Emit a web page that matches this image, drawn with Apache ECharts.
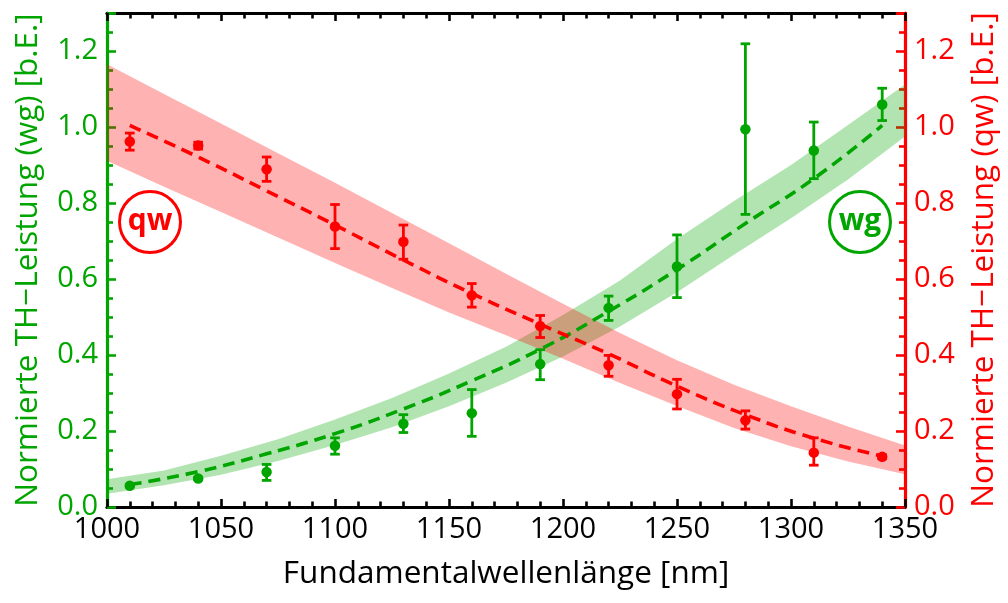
<!DOCTYPE html>
<html><head><meta charset="utf-8">
<script src="https://cdn.jsdelivr.net/npm/echarts@6/dist/echarts.min.js"></script>
<style>html,body{margin:0;padding:0;background:#fff}#c{width:1008px;height:603px}</style>
</head><body><div id="c"></div>
<script>
// ---- data ----
const wavelengths = [1010, 1040, 1070, 1100, 1130, 1160, 1190, 1220, 1250, 1280, 1310, 1340];

const wgValues  = [0.056, 0.075, 0.092, 0.161, 0.219, 0.247, 0.376, 0.524, 0.633, 0.994, 0.938, 1.059];
const wgErrLow  = [0.053, 0.072, 0.070, 0.139, 0.196, 0.186, 0.335, 0.491, 0.551, 0.770, 0.864, 1.017];
const wgErrHigh = [0.059, 0.078, 0.112, 0.182, 0.243, 0.309, 0.414, 0.555, 0.716, 1.219, 1.013, 1.102];

const qwValues  = [0.962, 0.951, 0.889, 0.738, 0.698, 0.557, 0.476, 0.373, 0.297, 0.228, 0.143, 0.132];
const qwErrLow  = [0.939, 0.942, 0.857, 0.680, 0.652, 0.526, 0.446, 0.344, 0.258, 0.205, 0.110, 0.127];
const qwErrHigh = [0.984, 0.960, 0.921, 0.796, 0.742, 0.588, 0.504, 0.399, 0.336, 0.253, 0.182, 0.137];

const wgFit = [0.059, 0.093, 0.140, 0.193, 0.258, 0.332, 0.415, 0.515, 0.625, 0.746, 0.864, 1.004];
const qwFit = [1.004, 0.921, 0.832, 0.742, 0.650, 0.562, 0.481, 0.403, 0.318, 0.243, 0.181, 0.134];

const bandX      = [1000, 1025, 1050, 1075, 1100, 1125, 1150, 1175, 1200, 1225, 1250, 1275, 1300, 1325, 1350];
const wgBandLow  = [0.035, 0.057, 0.085, 0.121, 0.163, 0.210, 0.265, 0.327, 0.396, 0.475, 0.565, 0.664, 0.760, 0.862, 0.975];
const wgBandHigh = [0.073, 0.096, 0.135, 0.178, 0.230, 0.287, 0.351, 0.422, 0.505, 0.596, 0.705, 0.805, 0.900, 1.005, 1.112];
const qwBandLow  = [0.911, 0.843, 0.776, 0.709, 0.642, 0.576, 0.512, 0.452, 0.390, 0.326, 0.266, 0.208, 0.160, 0.120, 0.086];
const qwBandHigh = [1.165, 1.087, 1.009, 0.931, 0.853, 0.774, 0.694, 0.614, 0.535, 0.458, 0.386, 0.322, 0.265, 0.212, 0.162];

const xTitle = 'Fundamentalwellenlänge [nm]';
const yLeftTitle = 'Normierte TH\u2212Leistung (wg) [b.E.]';
const yRightTitle = 'Normierte TH\u2212Leistung (qw) [b.E.]';

// ---- styling ----
const GREEN = '#00a500';
const RED = '#ff0000';
const FONT = '"Open Sans", "DejaVu Sans", sans-serif';
const TICK_FS = 29;
const TITLE_FS = 31.5;

function bandSeries(low, high, fill, yIdx) {
  return {
    type: 'custom', xAxisIndex: 0, yAxisIndex: yIdx, silent: true,
    data: bandX.map((x, i) => [x, low[i], high[i]]),
    encode: { x: 0, y: [1, 2] },
    renderItem: function (params, api) {
      if (params.dataIndex !== 0) return null;
      const pts = [];
      for (let i = 0; i < bandX.length; i++) pts.push(api.coord([bandX[i], high[i]]));
      for (let i = bandX.length - 1; i >= 0; i--) pts.push(api.coord([bandX[i], low[i]]));
      return { type: 'polygon', shape: { points: pts }, style: { fill: fill, stroke: null } };
    }
  };
}
function fitSeries(vals, color, yIdx) {
  return {
    type: 'line', xAxisIndex: 0, yAxisIndex: yIdx, smooth: true, showSymbol: false, silent: true,
    data: wavelengths.map((x, i) => [x, vals[i]]),
    lineStyle: { color: color, width: 3.6, type: [12, 7] }
  };
}
function errSeries(lo, hi, color, yIdx) {
  return {
    type: 'custom', xAxisIndex: 0, yAxisIndex: yIdx, silent: true,
    data: wavelengths.map((x, i) => [x, lo[i], hi[i]]),
    encode: { x: 0, y: [1, 2] },
    renderItem: function (params, api) {
      const a = api.coord([api.value(0), api.value(1)]);
      const b = api.coord([api.value(0), api.value(2)]);
      const w = 4.8;
      const st = { stroke: color, lineWidth: 2.8, fill: null };
      return { type: 'group', children: [
        { type: 'line', shape: { x1: a[0], y1: a[1], x2: b[0], y2: b[1] }, style: st },
        { type: 'line', shape: { x1: a[0] - w, y1: a[1], x2: a[0] + w, y2: a[1] }, style: st },
        { type: 'line', shape: { x1: b[0] - w, y1: b[1], x2: b[0] + w, y2: b[1] }, style: st }
      ]};
    }
  };
}
function pointSeries(vals, color, yIdx) {
  return {
    type: 'scatter', xAxisIndex: 0, yAxisIndex: yIdx, silent: true, symbolSize: 10.5,
    data: wavelengths.map((x, i) => [x, vals[i]]),
    itemStyle: { color: color, opacity: 1 }
  };
}
function yAxisDef(pos, color, title) {
  return {
    type: 'value', position: pos, min: 0, max: 1.3, interval: 0.2,
    name: title, nameLocation: 'middle', nameRotate: 90, nameGap: pos === 'left' ? 63 : 63,
    nameTextStyle: { color: color, fontSize: TITLE_FS, fontFamily: FONT },
    axisLine: { show: true, onZero: false, lineStyle: { color: color, width: 3.2 } },
    axisTick: { show: true, inside: true, length: 9, lineStyle: { color: color, width: 2.6 } },
    minorTick: { show: true, splitNumber: 4, length: 6, lineStyle: { color: color, width: 2.6 } },
    axisLabel: { color: color, fontSize: TICK_FS, fontFamily: FONT, margin: 9, showMaxLabel: false,
      formatter: v => v.toFixed(1) },
    splitLine: { show: false }, minorSplitLine: { show: false }
  };
}

const chart = echarts.init(document.getElementById('c'), null, { renderer: 'canvas' });
chart.setOption({
  animation: false,
  backgroundColor: '#fff',
  grid: { left: 107, right: 103, top: 13, bottom: 96, containLabel: false },
  xAxis: [
    {
      type: 'value', position: 'bottom', min: 1000, max: 1350, interval: 50,
      name: xTitle, nameLocation: 'middle', nameGap: 51,
      nameTextStyle: { color: '#000', fontSize: TITLE_FS, fontFamily: FONT },
      axisLine: { show: true, onZero: false, lineStyle: { color: '#000', width: 3.2 } },
      axisTick: { show: true, inside: true, length: 8, lineStyle: { color: '#000', width: 2.6 } },
      minorTick: { show: true, splitNumber: 5, length: 5.5, lineStyle: { color: '#000', width: 2.6 } },
      axisLabel: { color: '#000', fontSize: TICK_FS, fontFamily: FONT, margin: 8, formatter: v => String(v) },
      splitLine: { show: false }, minorSplitLine: { show: false }
    },
    {
      type: 'value', position: 'top', min: 1000, max: 1350, interval: 50,
      axisLine: { show: true, onZero: false, lineStyle: { color: '#000', width: 3.2 } },
      axisTick: { show: true, inside: true, length: 8, lineStyle: { color: '#000', width: 2.6 } },
      minorTick: { show: true, splitNumber: 5, length: 5.5, lineStyle: { color: '#000', width: 2.6 } },
      axisLabel: { show: false },
      splitLine: { show: false }, minorSplitLine: { show: false }
    }
  ],
  yAxis: [ yAxisDef('left', GREEN, yLeftTitle), yAxisDef('right', RED, yRightTitle) ],
  series: [
    bandSeries(wgBandLow, wgBandHigh, 'rgba(0,165,0,0.30)', 0),
    fitSeries(wgFit, GREEN, 0),
    bandSeries(qwBandLow, qwBandHigh, 'rgba(255,0,0,0.30)', 1),
    fitSeries(qwFit, RED, 1),
    errSeries(wgErrLow, wgErrHigh, GREEN, 0),
    pointSeries(wgValues, GREEN, 0),
    errSeries(qwErrLow, qwErrHigh, RED, 1),
    pointSeries(qwValues, RED, 1)
  ],
  graphic: [
    { type: 'circle', shape: { cx: 150, cy: 222, r: 30.5 }, style: { fill: null, stroke: RED, lineWidth: 3 }, z: 100 },
    { type: 'text', x: 150, y: 221, style: { text: 'qw', fill: RED, font: 'bold 30px ' + FONT, align: 'center', verticalAlign: 'middle', textAlign: 'center', textVerticalAlign: 'middle' }, z: 100 },
    { type: 'circle', shape: { cx: 860, cy: 222, r: 30.5 }, style: { fill: null, stroke: GREEN, lineWidth: 3 }, z: 100 },
    { type: 'text', x: 860, y: 221, style: { text: 'wg', fill: GREEN, font: 'bold 30px ' + FONT, align: 'center', verticalAlign: 'middle', textAlign: 'center', textVerticalAlign: 'middle' }, z: 100 }
  ]
});
</script>
</body></html>
